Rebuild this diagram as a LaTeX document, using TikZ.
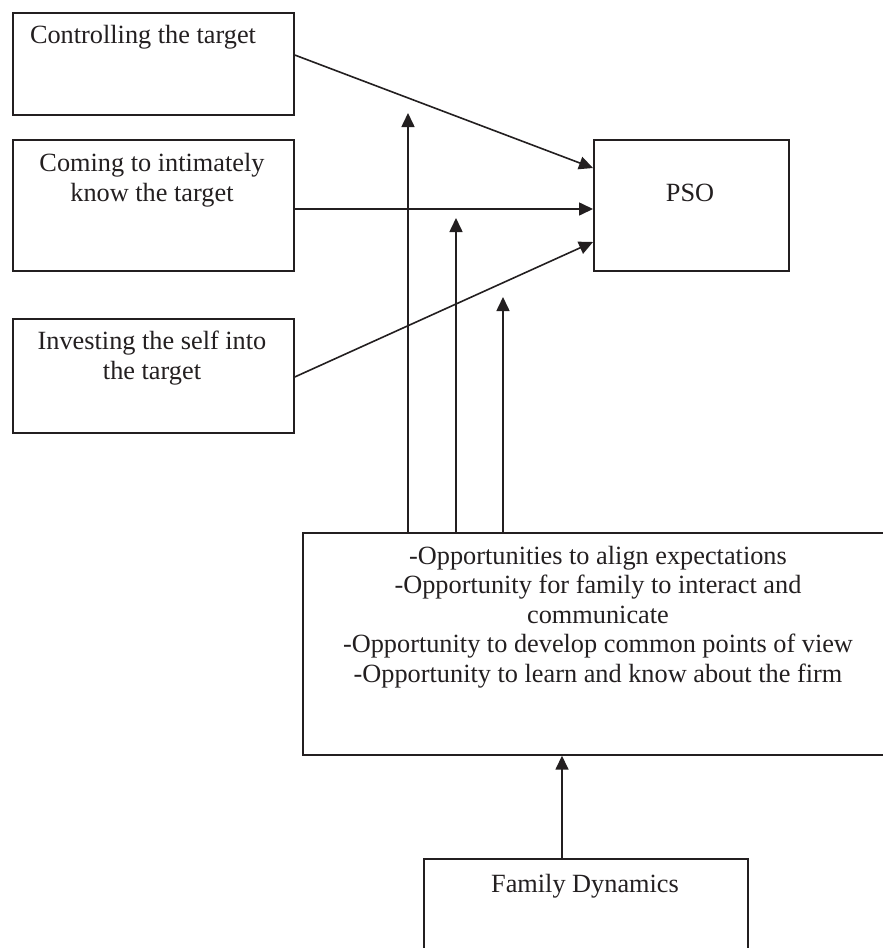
\documentclass[tikz,border=0pt]{standalone}
\usepackage{fontspec}
\setmainfont{Liberation Serif}
\usetikzlibrary{arrows.meta,calc}
\definecolor{ink}{HTML}{231F20}
\tikzset{
  box/.style={draw=ink, line width=1.7pt, rectangle, inner sep=0pt, anchor=north west},
  txt/.style={anchor=base, align=center, inner sep=0pt, text=ink, font=\fontsize{26.3}{29.5}\selectfont},
  conn/.style={draw=ink, line width=1.6pt, -{Triangle[length=14pt,width=13pt]}},
}
\begin{document}
\begin{tikzpicture}[x=1pt,y=-1pt]
\clip (0,0) rectangle (883,948);
\fill[white] (0,0) rectangle (883,948);
% boxes
\node[box, minimum width=281pt, minimum height=102pt] (b1) at (12,12) {};
\node[box, minimum width=281pt, minimum height=131pt] (b2) at (12,139) {};
\node[box, minimum width=281pt, minimum height=114pt] (b3) at (12,318) {};
\node[box, minimum width=195pt, minimum height=131pt] (pso) at (593,139) {};
\node[box, minimum width=592pt, minimum height=222pt] (big) at (302,532) {};
\node[box, minimum width=324pt, minimum height=140pt] (fam) at (423,858) {};
% texts (anchor base = baseline of the last line)
\node[txt] (t1) at (143,43) {Controlling the target};
\node[txt] (t2) at (152,201) {Coming to intimately\\know the target};
\node[txt] (t3) at (152,379) {Investing the self into\\the target};
\node[txt] (t4) at (690,201) {PSO};
\node[txt] (t5) at (598,682) {-Opportunities to align expectations\\-Opportunity for family to interact and\\communicate\\-Opportunity to develop common points of view\\-Opportunity to learn and know about the firm};
\node[txt] (t6) at (585,892) {Family Dynamics};
% connectors
\draw[conn] ($(b1.north east)+(0,43)$) -- ($(pso.north west)+(0,29)$);
\draw[conn] ($(b2.north east)+(0,70)$) -- ($(pso.north west)+(0,70)$);
\draw[conn] ($(b3.north east)+(0,59)$) -- ($(pso.north west)+(0,103)$);
\coordinate (e1) at (408,113);
\coordinate (e2) at (456,218);
\coordinate (e3) at (503,297);
\draw[conn] ($(big.north west)+(106,0)$) -- (e1);
\draw[conn] ($(big.north west)+(154,0)$) -- (e2);
\draw[conn] ($(big.north west)+(201,0)$) -- (e3);
\draw[conn] ($(fam.north west)+(139,0)$) -- ($(big.south west)+(260,0)$);
\end{tikzpicture}
\end{document}
